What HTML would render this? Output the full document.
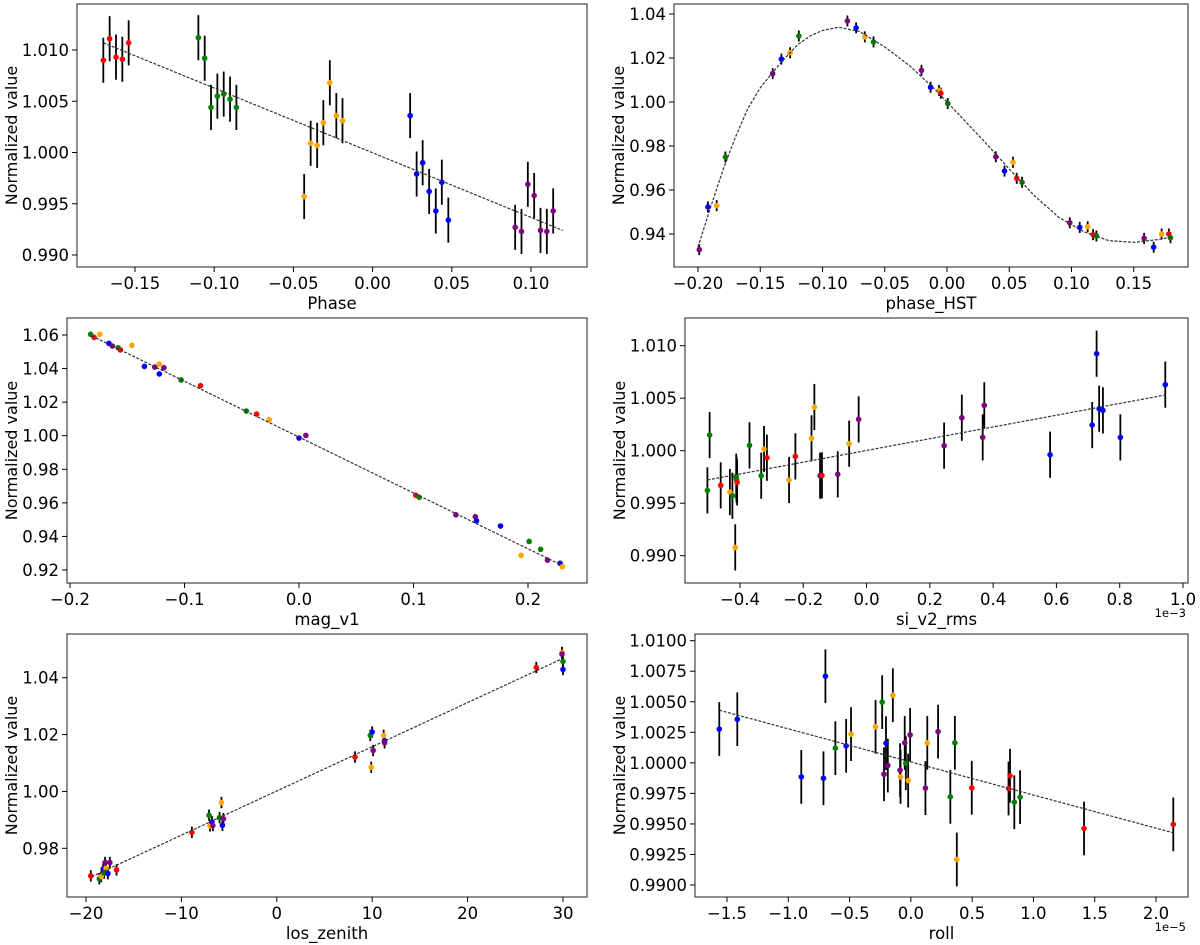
<!DOCTYPE html>
<html><head><meta charset="utf-8"><style>
html,body{margin:0;padding:0;background:#fff;}
svg{display:block;font-family:"DejaVu Sans","Liberation Sans",sans-serif;}
</style></head><body>
<svg id="fig" width="1200" height="945" viewBox="0 0 1200 945" xmlns="http://www.w3.org/2000/svg"></svg>
<script>
// Panel 1: Phase
const p1X=[-0.170,-0.166,-0.162,-0.158,-0.154,-0.110,-0.106,-0.102,-0.098,-0.094,-0.090,-0.086,-0.0432,-0.0391,-0.0350,-0.0311,-0.0270,-0.0229,-0.0190,0.0237,0.0278,0.0316,0.0357,0.0399,0.0437,0.0478,0.090,0.094,0.098,0.102,0.106,0.110,0.114];
const p1Y=[1.0090,1.0111,1.0093,1.0091,1.0107,1.0112,1.0092,1.0044,1.0055,1.0057,1.0052,1.0044,0.9957,1.0009,1.0007,1.0029,1.0068,1.0036,1.0031,1.0036,0.9979,0.9990,0.9962,0.9943,0.9971,0.9934,0.9927,0.9923,0.9969,0.9958,0.9924,0.9923,0.9943];
const p1C="rrrrr"+"ggggggg"+"ooooooo"+"bbbbbbb"+"ppppppp";
const p1Err=0.0022;
const p1FitX=[-0.17,0.12];const p1FitY=[1.0107,0.9924];
// Panel 2: phase_HST
const p2X=[-0.199,-0.192,-0.185,-0.178,-0.140,-0.133,-0.126,-0.119,-0.080,-0.073,-0.066,-0.059,-0.0205,-0.0132,-0.0064,-0.0049,0.0006,0.0392,0.0462,0.0530,0.0560,0.0603,0.0986,0.1066,0.1130,0.1173,0.1200,0.1583,0.1660,0.1724,0.1782,0.1795];
const p2Y=[0.9329,0.9523,0.9529,0.9750,1.0129,1.0195,1.0224,1.0300,1.0368,1.0337,1.0296,1.0273,1.0144,1.0067,1.0052,1.0040,0.9993,0.9751,0.9686,0.9726,0.9653,0.9635,0.9451,0.9430,0.9433,0.9397,0.9391,0.9380,0.9340,0.9400,0.9400,0.9383];
const p2C="pbogpbogpbogpborgpborgpborgpborg";
const p2Err=0.0025;
const p2FitX=[-0.20,-0.19,-0.18,-0.17,-0.16,-0.15,-0.14,-0.13,-0.12,-0.11,-0.10,-0.087,-0.07,-0.05,-0.03,-0.01,0.01,0.03,0.05,0.07,0.09,0.11,0.13,0.15,0.17,0.18];
const p2FitY=[0.9340,0.9520,0.9690,0.9840,0.9970,1.0065,1.0135,1.0200,1.0260,1.0300,1.0325,1.0340,1.0320,1.0250,1.0165,1.0060,0.9940,0.9820,0.9695,0.9575,0.9475,0.9410,0.9370,0.9362,0.9375,0.9385];
// Panel 3: mag_v1
const p3X=[-0.182,-0.179,-0.174,-0.166,-0.163,-0.158,-0.156,-0.146,-0.135,-0.126,-0.122,-0.122,-0.118,-0.103,-0.086,-0.046,-0.037,-0.026,0.000,0.006,0.102,0.105,0.137,0.154,0.155,0.176,0.194,0.201,0.211,0.217,0.228,0.230];
const p3Y=[1.0604,1.0586,1.0604,1.0550,1.0534,1.0524,1.0511,1.0538,1.0413,1.0409,1.0427,1.0368,1.0405,1.0332,1.0298,1.0147,1.0129,1.0095,0.9986,1.0002,0.9645,0.9633,0.9529,0.9517,0.9493,0.9462,0.9287,0.9370,0.9323,0.9259,0.9240,0.9220];
const p3C="grobpgrobpobpgrgrobprgppbboggpbo";
const p3Err=0.0015;
const p3FitX=[-0.181,0.229];const p3FitY=[1.0594,0.9230];
// Panel 4: si_v2_rms (x in units of 1e-3)
const p4X=[-0.503,-0.496,-0.461,-0.432,-0.424,-0.412,-0.411,-0.415,-0.409,-0.370,-0.333,-0.324,-0.315,-0.245,-0.225,-0.174,-0.165,-0.147,-0.141,-0.091,-0.055,-0.025,0.245,0.301,0.367,0.372,0.580,0.713,0.727,0.735,0.747,0.802,0.944];
const p4Y=[0.99622,1.00149,0.99670,0.99606,0.99571,0.99752,0.99724,0.99079,0.99698,1.00051,0.99762,1.00016,0.99933,0.99721,0.99946,1.00117,1.00416,0.99762,0.99765,0.99775,1.00067,1.00298,1.00048,1.00314,1.00127,1.00432,0.99962,1.00244,1.00924,1.00400,1.00384,1.00127,1.00629];
const p4C="ggrogggorg"+"gor"+"oroo"+"pr"+"p"+"o"+"p"+"pppp"+"bbbbbbb";
const p4Err=0.0022;
const p4FitX=[-0.503,0.944];const p4FitY=[0.99721,1.0053];
// Panel 5: los_zenith
const p5X=[-19.5,-18.6,-18.4,-18.2,-18.0,-18.1,-17.9,-17.7,-17.5,-16.8,-8.9,-7.1,-7.0,-6.8,-6.7,-6.0,-5.8,-5.7,-5.6,8.2,9.8,9.9,10.0,10.1,11.2,11.3,11.3,27.2,29.9,29.9,30.0,30.0];
const p5Y=[0.9703,0.9693,0.9701,0.9727,0.9750,0.9713,0.9730,0.9711,0.9750,0.9724,0.9856,0.9916,0.9879,0.9893,0.9880,0.9908,0.9961,0.9881,0.9904,1.0121,1.0197,1.0085,1.0209,1.0144,1.0197,1.0178,1.0171,1.0436,1.0489,1.0483,1.0457,1.0429];
const p5C="rgobpgobprrgobpgobprgobpobpropgb";
const p5Err=0.002;
const p5FitX=[-19.4,30];const p5FitY=[0.9700,1.0468];
// Panel 6: roll (x in units of 1e-5)
const p6X=[-1.563,-1.416,-0.894,-0.713,-0.697,-0.616,-0.528,-0.488,-0.288,-0.234,-0.219,-0.203,-0.188,-0.147,-0.088,-0.084,-0.050,-0.041,-0.022,-0.006,0.119,0.134,0.222,0.322,0.359,0.375,0.497,0.797,0.809,0.844,0.891,1.413,2.141];
const p6Y=[1.00277,1.00357,0.99885,0.99874,1.00709,1.00120,1.00139,1.00235,1.00295,1.00497,0.99907,1.00161,0.99978,1.00554,0.99940,0.99885,1.00164,0.99997,0.99855,1.00229,0.99793,1.00164,1.00256,0.99722,1.00164,0.99209,0.99796,0.99790,0.99894,0.99678,0.99719,0.99463,0.99496];
const p6C="bbbbbgboog"+"pbpopopgop"+"popggorrrg"+"grr";
const p6Err=0.0022;
const p6FitX=[-1.563,2.141];const p6FitY=[1.00431,0.99427];

const xTicks1=[-0.15,-0.10,-0.05,0.00,0.05,0.10];
const yTicks1=[0.990,0.995,1.000,1.005,1.010];
const xTicks2=[-0.20,-0.15,-0.10,-0.05,0.00,0.05,0.10,0.15];
const yTicks2=[0.94,0.96,0.98,1.00,1.02,1.04];
const xTicks3=[-0.2,-0.1,0.0,0.1,0.2];
const yTicks3=[0.92,0.94,0.96,0.98,1.00,1.02,1.04,1.06];
const xTicks4=[-0.4,-0.2,0.0,0.2,0.4,0.6,0.8,1.0];
const yTicks4=[0.990,0.995,1.000,1.005,1.010];
const xTicks5=[-20,-10,0,10,20,30];
const yTicks5=[0.98,1.00,1.02,1.04];
const xTicks6=[-1.5,-1.0,-0.5,0.0,0.5,1.0,1.5,2.0];
const yTicks6=[0.9900,0.9925,0.9950,0.9975,1.0000,1.0025,1.0050,1.0075,1.0100];

const COL={r:"#ff0000",g:"#008000",o:"#ffa500",b:"#0000ff",p:"#800080"};
const NS="http://www.w3.org/2000/svg";
const svg=document.getElementById('fig');
function mk(tag,attrs,parent){const e=document.createElementNS(NS,tag);for(const k in attrs)e.setAttribute(k,attrs[k]);(parent||svg).appendChild(e);return e;}
function fmt(v,d){let s=v.toFixed(d);if(Math.abs(v)<1e-12)s=(0).toFixed(d);return s.replace("-","\u2212");}

const panels=[
 {name:"phase",box:[77,4,587,267],xr:[-0.15,135,0.10,531],yr:[1.010,50,0.990,255],X:p1X,Y:p1Y,C:p1C,E:p1Err,FX:p1FitX,FY:p1FitY,xt:xTicks1,yt:yTicks1,xd:2,yd:3,xl:"Phase",yl:17},
 {name:"phase-hst",box:[674,4,1188,267],xr:[-0.20,698,0.00,947],yr:[1.04,14,0.94,234],X:p2X,Y:p2Y,C:p2C,E:p2Err,FX:p2FitX,FY:p2FitY,xt:xTicks2,yt:yTicks2,xd:2,yd:2,xl:"phase_HST",yl:624},
 {name:"mag-v1",box:[67,318,587,583],xr:[-0.2,70,0.2,528],yr:[1.06,335,0.92,570],X:p3X,Y:p3Y,C:p3C,E:p3Err,FX:p3FitX,FY:p3FitY,xt:xTicks3,yt:yTicks3,xd:1,yd:2,xl:"mag_v1",yl:17},
 {name:"si-v2-rms",box:[685,318,1188,583],xr:[-0.4,740,1.0,1183],yr:[1.010,345.7,0.990,555.7],X:p4X,Y:p4Y,C:p4C,E:p4Err,FX:p4FitX,FY:p4FitY,xt:xTicks4,yt:yTicks4,xd:1,yd:3,xl:"si_v2_rms",yl:625,off:"1e\u22123"},
 {name:"los-zenith",box:[67,634,587,897],xr:[-20,86,30,563],yr:[1.04,677.7,0.98,848.3],X:p5X,Y:p5Y,C:p5C,E:p5Err,FX:p5FitX,FY:p5FitY,xt:xTicks5,yt:yTicks5,xd:0,yd:2,xl:"los_zenith",yl:17},
 {name:"roll",box:[695,634,1188,897],xr:[-1.5,727,2.0,1156],yr:[1.0100,640.7,0.9900,885],X:p6X,Y:p6Y,C:p6C,E:p6Err,FX:p6FitX,FY:p6FitY,xt:xTicks6,yt:yTicks6,xd:1,yd:4,xl:"roll",yl:625,off:"1e\u22125"}
];

panels.forEach(P=>{
  const [L,T,R,B]=P.box;
  const sx=v=>P.xr[1]+(v-P.xr[0])*(P.xr[3]-P.xr[1])/(P.xr[2]-P.xr[0]);
  const sy=v=>P.yr[1]+(v-P.yr[0])*(P.yr[3]-P.yr[1])/(P.yr[2]-P.yr[0]);
  const g=mk('g',{});
  
  
  for(let i=0;i<P.X.length;i++){
    const x=sx(P.X[i]);
    const eb=mk('line',{x1:x,x2:x,y1:sy(P.Y[i]+P.E),y2:sy(P.Y[i]-P.E),stroke:"#000","stroke-width":1.8},g);
    
    
  }
  for(let i=0;i<P.X.length;i++){
    const c=mk('circle',{cx:sx(P.X[i]),cy:sy(P.Y[i]),r:2.8,fill:COL[P.C[i]]||"#000"},g);
    
    
  }
  const pts=P.FX.map((v,i)=>sx(v).toFixed(1)+","+sy(P.FY[i]).toFixed(1)).join(" ");
  const fit=mk('polyline',{points:pts,fill:"none",stroke:"#333","stroke-width":1.2,"stroke-dasharray":"3,1.5"},g);
  
  
  const frame=mk('rect',{x:L,y:T,width:R-L,height:B-T,fill:"none",stroke:"#444","stroke-width":1.2},g);
  
  
  P.xt.forEach(v=>{
    const x=sx(v);
    mk('line',{x1:x,x2:x,y1:B,y2:B+5,stroke:"#000","stroke-width":1},g);
    const t=mk('text',{x:x,y:B+22,"font-size":16.5,"text-anchor":"middle",fill:"#000"},g);
    t.textContent=fmt(v,P.xd);
    
    
  });
  P.yt.forEach(v=>{
    const y=sy(v);
    mk('line',{x1:L-5,x2:L,y1:y,y2:y,stroke:"#000","stroke-width":1},g);
    const t=mk('text',{x:L-8,y:y+6,"font-size":16.5,"text-anchor":"end",fill:"#000"},g);
    t.textContent=fmt(v,P.yd);
    
    
  });
  const xl=mk('text',{x:(L+R)/2,y:B+42,"font-size":16.5,"text-anchor":"middle",fill:"#000"},g);
  xl.textContent=P.xl;
  
  
  const cy=(T+B)/2;
  const yl=mk('text',{x:P.yl,y:cy,"font-size":16,"text-anchor":"middle",fill:"#000",transform:"rotate(-90 "+P.yl+" "+cy+")"},g);
  yl.textContent="Normalized value";
  
  
  if(P.off){
    const o=mk('text',{x:R-2,y:B+34,"font-size":11.5,"text-anchor":"end",fill:"#000"},g);
    o.textContent=P.off;
    
    
  }
});
</script>
</body></html>
